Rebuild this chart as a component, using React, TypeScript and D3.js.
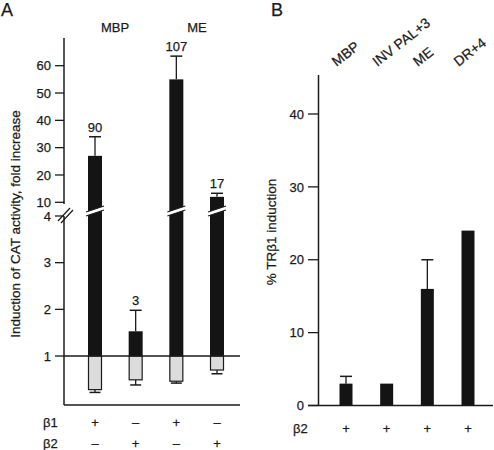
import React from "react";
import * as d3 from "d3";

// ---------- Panel A data ----------
const groupLabelsA = ["MBP", "ME"];
const beta1Signs = ["+", "–", "+", "–"];
const beta2Signs = ["–", "+", "–", "+"];
const activationValues = [27, 1.53, 55, 12];
const activationErrTop = [34, 1.98, 63.5, 13.3];
const foldLabels = ["90", "3", "107", "17"];
const repressionValues = [0.28, 0.49, 0.46, 0.7];
const repressionErrLow = [0.22, 0.38, 0.42, 0.62];
const upperTicksA = [10, 20, 30, 40, 50, 60];
const lowerTicksA = [1, 2, 3, 4];

// ---------- Panel B data ----------
const categoriesB = ["MBP", "INV PAL+3", "ME", "DR+4"];
const beta2SignsB = ["+", "+", "+", "+"];
const inductionValues = [3, 3, 16, 24];
const inductionErrTop: (number | null)[] = [4, null, 20, null];
const ticksB = [0, 10, 20, 30, 40];

const FONT = "'Liberation Sans', Arial, Helvetica, sans-serif";
const INK = "#1b1b1b";

export default function App() {
  // Panel A scales
  const xA = d3.scalePoint<number>().domain([0, 1, 2, 3]).range([95, 217]);
  const yU = d3.scaleLinear().domain([10, 60]).range([202.3, 65.7]);
  const yL = d3.scaleLinear().domain([0, 4]).range([402.7, 216]);
  const yA = (v: number) => (v > 4 ? yU(v) : yL(v));
  const axisXA = 64;
  const bwA = 14;

  // Panel B scales
  const xB = d3.scalePoint<number>().domain([0, 1, 2, 3]).range([346, 468]);
  const yB = d3.scaleLinear().domain([0, 40]).range([405.5, 114]);
  const axisXB = 318.5;
  const bwB = 13;

  const txt = { stroke: INK, strokeWidth: 0.25 } as const;

  return (
    <svg
      width={494}
      height={450}
      style={{ position: "absolute", left: 0, top: 0, background: "#fff" }}
      fontFamily={FONT}
      fill={INK}
    >
      {/* ================= Panel A ================= */}
      <text x={1} y={16} fontSize={18} {...txt}>A</text>
      <text x={115} y={32} fontSize={13} textAnchor="middle" {...txt}>{groupLabelsA[0]}</text>
      <text x={197} y={32} fontSize={13} textAnchor="middle" {...txt}>{groupLabelsA[1]}</text>
      <text
        transform={`translate(20,224) rotate(-90)`}
        fontSize={13.5}
        textAnchor="middle"
        {...txt}
      >
        Induction of CAT activity, fold increase
      </text>

      {/* axis: upper and lower segments */}
      <line x1={axisXA} x2={axisXA} y1={38} y2={204} stroke={INK} strokeWidth={1.5} />
      <line x1={axisXA} x2={axisXA} y1={yL(4)} y2={405} stroke={INK} strokeWidth={1.5} />
      <line x1={58} y1={221} x2={70} y2={208} stroke={INK} strokeWidth={1.2} />
      <line x1={61} y1={223} x2={73} y2={210} stroke={INK} strokeWidth={1.2} />
      <line x1={axisXA} x2={240} y1={405} y2={405} stroke={INK} strokeWidth={1.5} />

      {upperTicksA.map((t) => (
        <g key={"u" + t}>
          <line x1={axisXA - 9} x2={axisXA} y1={yU(t)} y2={yU(t)} stroke={INK} strokeWidth={1.3} />
          <text x={axisXA - 13} y={yU(t)} dy="0.36em" fontSize={13} textAnchor="end" {...txt}>{t}</text>
        </g>
      ))}
      {lowerTicksA.map((t) => (
        <g key={"l" + t}>
          <line x1={axisXA - 9} x2={axisXA} y1={yL(t)} y2={yL(t)} stroke={INK} strokeWidth={1.3} />
          <text x={axisXA - 13} y={yL(t)} dy="0.36em" fontSize={13} textAnchor="end" {...txt}>{t}</text>
        </g>
      ))}

      {/* bars */}
      {activationValues.map((v, i) => {
        const cx = xA(i)!;
        const x0 = cx - bwA / 2;
        const x1 = cx + bwA / 2;
        const top = yA(v);
        const base = yL(1);
        const errY = yA(activationErrTop[i]);
        const broken = v > 4;
        const gBottom = yL(repressionValues[i]);
        const gErr = yL(repressionErrLow[i]);
        return (
          <g key={"a" + i}>
            <line x1={cx} x2={cx} y1={errY} y2={top} stroke={INK} strokeWidth={1.3} />
            <line x1={cx - 6} x2={cx + 6} y1={errY} y2={errY} stroke={INK} strokeWidth={1.5} />
            <rect x={x0} y={top} width={bwA} height={base - top} fill="#141414" />
            {broken && (
              <g>
                <polygon
                  points={`${x0 - 2},${212} ${x1 + 2},${206} ${x1 + 2},${210} ${x0 - 2},${216}`}
                  fill="#fff"
                />
                <line x1={x0 - 2} y1={212} x2={x1 + 2} y2={206} stroke={INK} strokeWidth={1.1} />
                <line x1={x0 - 2} y1={216} x2={x1 + 2} y2={210} stroke={INK} strokeWidth={1.1} />
              </g>
            )}
            <text x={cx} y={errY - 5} fontSize={13} textAnchor="middle" {...txt}>{foldLabels[i]}</text>
            <line x1={cx} x2={cx} y1={gBottom} y2={gErr} stroke={INK} strokeWidth={1.3} />
            <line x1={cx - 5.5} x2={cx + 5.5} y1={gErr} y2={gErr} stroke={INK} strokeWidth={1.5} />
            <rect
              x={x0 + 0.5}
              y={base}
              width={bwA - 1}
              height={gBottom - base}
              fill="#dcdcdc"
              stroke={INK}
              strokeWidth={1.2}
            />
            <text x={cx} y={422} dy="0.36em" fontSize={13} textAnchor="middle" {...txt}>{beta1Signs[i]}</text>
            <text x={cx} y={443} dy="0.36em" fontSize={13} textAnchor="middle" {...txt}>{beta2Signs[i]}</text>
          </g>
        );
      })}
      <line x1={axisXA} x2={240} y1={yL(1)} y2={yL(1)} stroke={INK} strokeWidth={1.4} />
      <text x={43} y={422} dy="0.36em" fontSize={13} {...txt}>β1</text>
      <text x={43} y={443} dy="0.36em" fontSize={13} {...txt}>β2</text>

      {/* ================= Panel B ================= */}
      <text x={271} y={16} fontSize={18} {...txt}>B</text>
      <text
        transform={`translate(276,232) rotate(-90)`}
        fontSize={13.5}
        textAnchor="middle"
        {...txt}
      >
        % TRβ1 induction
      </text>
      {categoriesB.map((c, i) => (
        <text
          key={"cb" + i}
          transform={`translate(${xB(i)! - 9.5},67) rotate(-38)`}
          fontSize={14}
          {...txt}
        >
          {c}
        </text>
      ))}
      <line x1={axisXB} x2={axisXB} y1={75} y2={yB(0)} stroke={INK} strokeWidth={1.5} />
      <line x1={308} x2={493} y1={yB(0)} y2={yB(0)} stroke={INK} strokeWidth={1.5} />
      {ticksB.map((t) => (
        <g key={"tb" + t}>
          <line x1={308} x2={axisXB} y1={yB(t)} y2={yB(t)} stroke={INK} strokeWidth={1.3} />
          <text x={304} y={yB(t)} dy="0.36em" fontSize={13} textAnchor="end" {...txt}>{t}</text>
        </g>
      ))}
      {inductionValues.map((v, i) => {
        const cx = xB(i)!;
        const e = inductionErrTop[i];
        return (
          <g key={"b" + i}>
            {e !== null && (
              <g>
                <line x1={cx} x2={cx} y1={yB(e)} y2={yB(v)} stroke={INK} strokeWidth={1.3} />
                <line x1={cx - 6} x2={cx + 6} y1={yB(e)} y2={yB(e)} stroke={INK} strokeWidth={1.5} />
              </g>
            )}
            <rect x={cx - bwB / 2} y={yB(v)} width={bwB} height={yB(0) - yB(v)} fill="#141414" />
            <text x={cx} y={428} dy="0.36em" fontSize={13} textAnchor="middle" {...txt}>{beta2SignsB[i]}</text>
          </g>
        );
      })}
      <text x={293} y={428} dy="0.36em" fontSize={13} {...txt}>β2</text>
    </svg>
  );
}
